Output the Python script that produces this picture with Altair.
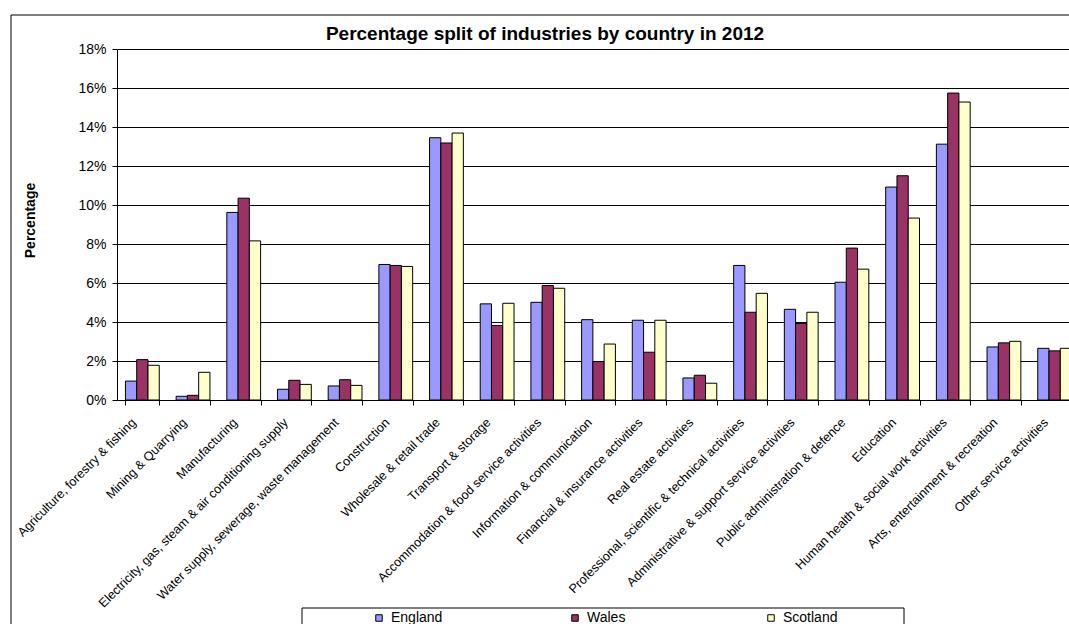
import altair as alt
import pandas as pd

categories = [
    "Agriculture, forestry & fishing",
    "Mining & Quarrying",
    "Manufacturing",
    "Electricity, gas, steam & air conditioning supply",
    "Water supply, sewerage, waste management",
    "Construction",
    "Wholesale & retail trade",
    "Transport & storage",
    "Accommodation & food service activities",
    "Information & communication",
    "Financial & insurance activities",
    "Real estate activities",
    "Professional, scientific & technical activities",
    "Administrative & support service activities",
    "Public administration & defence",
    "Education",
    "Human health & social work activities",
    "Arts, entertainment & recreation",
    "Other service activities",
]
england = [0.97, 0.19, 9.62, 0.55, 0.72, 6.95, 13.45, 4.93, 5.01, 4.12, 4.09, 1.13, 6.90, 4.65, 6.04, 10.92, 13.12, 2.72, 2.65]
wales = [2.07, 0.24, 10.35, 1.01, 1.04, 6.90, 13.18, 3.82, 5.87, 1.97, 2.45, 1.27, 4.50, 3.92, 7.79, 11.50, 15.74, 2.93, 2.52]
scotland = [1.78, 1.42, 8.16, 0.80, 0.75, 6.85, 13.69, 4.96, 5.73, 2.87, 4.09, 0.86, 5.47, 4.50, 6.71, 9.33, 15.28, 3.01, 2.65]
countries = ["England", "Wales", "Scotland"]
colors = ["#9999FF", "#993366", "#FFFFCC"]
y_ticks = [0, 0.02, 0.04, 0.06, 0.08, 0.10, 0.12, 0.14, 0.16, 0.18]
title_text = "Percentage split of industries by country in 2012"

rows = []
for i, cat in enumerate(categories):
    for country, vals in zip(countries, [england, wales, scotland]):
        rows.append({"Industry": cat, "Country": country, "Share": vals[i] / 100})
df = pd.DataFrame(rows)

FONT = "Liberation Sans"

bars = alt.Chart(df).mark_bar(stroke="black", strokeWidth=1).encode(
    x=alt.X(
        "Industry:N",
        sort=categories,
        scale=alt.Scale(range=[0, 963], paddingInner=0.333, paddingOuter=0.1667),
        axis=alt.Axis(
            title=None, labelAngle=-45, labelAlign="right", labelBaseline="middle",
            labelFontSize=12.6, labelFont=FONT, labelColor="black", labelPadding=15,
            labelOffset=-9,
            labelLimit=400, labelOverlap=False, tickBand="extent", tickSize=5,
            tickColor="black", domainColor="black", grid=False,
        ),
    ),
    xOffset=alt.XOffset("Country:N", sort=countries, scale=alt.Scale(paddingInner=0, paddingOuter=0)),
    y=alt.Y(
        "Share:Q",
        scale=alt.Scale(domain=[0, 0.18], nice=False),
        axis=alt.Axis(
            values=y_ticks, format=".0%", title="Percentage",
            titleFont=FONT, titleFontSize=14, titleFontWeight="bold", titleColor="black",
            titleAngle=270, titleX=-87, titleY=171, titleAlign="center", titleBaseline="middle",
            labelFont=FONT, labelFontSize=14, labelColor="black", labelPadding=6,
            tickSize=5, tickColor="black", domainColor="black",
            grid=True, gridColor="black", gridWidth=1,
        ),
    ),
    color=alt.Color(
        "Country:N",
        sort=countries,
        scale=alt.Scale(domain=countries, range=colors),
        legend=alt.Legend(
            title=None, orient="none", legendX=255, legendY=562, direction="horizontal",
            columns=3, gridAlign="all", columnPadding=122, symbolType="square",
            symbolSize=42, symbolStrokeColor="black", symbolStrokeWidth=1,
            labelFont=FONT, labelFontSize=14, labelColor="black", labelOffset=5, padding=0,
        ),
    ),
)

frame_df = pd.DataFrame({"k": [0]})
outer = alt.Chart(frame_df).mark_rect(fillOpacity=0, stroke="black", strokeWidth=1).encode(
    x=alt.value(-106), x2=alt.value(1100), y=alt.value(-34), y2=alt.value(700)
)
legend_box = alt.Chart(frame_df).mark_rect(fillOpacity=0, stroke="black", strokeWidth=1).encode(
    x=alt.value(185), x2=alt.value(787), y=alt.value(559), y2=alt.value(700)
)
title = alt.Chart(pd.DataFrame({"t": [title_text]})).mark_text(
    font=FONT, fontSize=19, fontWeight="bold", color="black", align="center", baseline="alphabetic"
).encode(text="t:N", x=alt.value(428), y=alt.value(-9))

chart = alt.layer(outer, bars, legend_box, title).properties(
    width=952,
    height=351,
    autosize=alt.AutoSizeParams(type="none"),
    padding={"left": 117, "top": 49, "right": 0, "bottom": 224},
    background="white",
).configure_view(strokeWidth=0)

chart.save("out.html", embed_options={"renderer": "svg", "actions": False})
